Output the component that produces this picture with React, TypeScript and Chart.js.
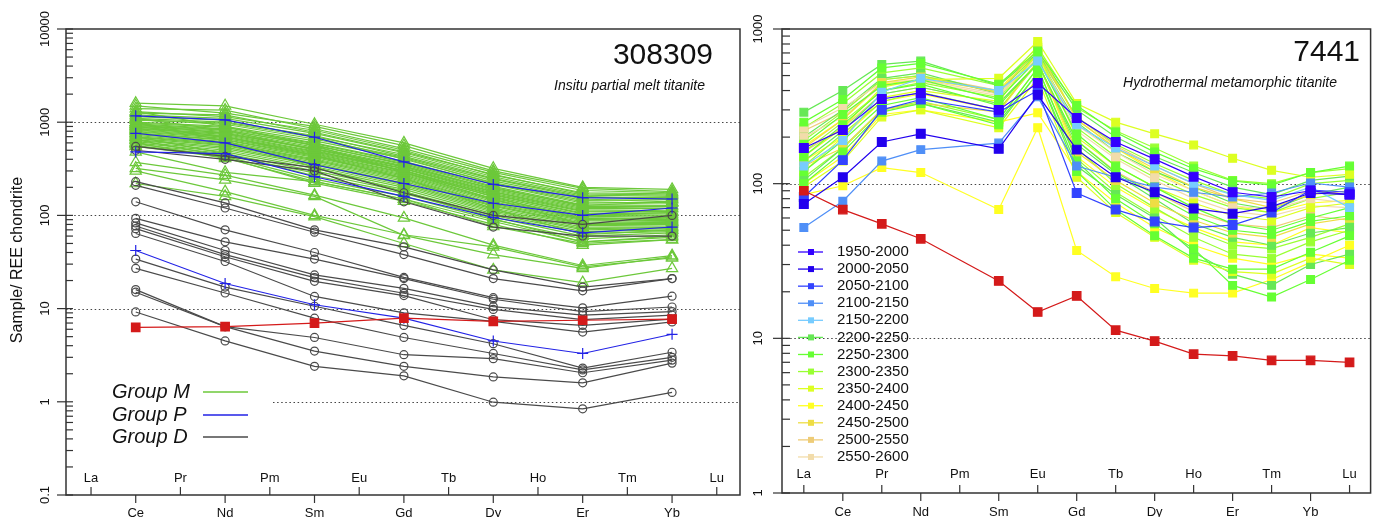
import React, { useEffect, useRef } from 'react';
import { Chart, registerables } from 'chart.js';

Chart.register(...registerables);

const W = 1378;
const H = 517;
const FONT = '"Liberation Sans", Arial, Helvetica, sans-serif';

// ---------- shared categories ----------
const elements = ['La', 'Ce', 'Pr', 'Nd', 'Pm', 'Sm', 'Eu', 'Gd', 'Tb', 'Dy', 'Ho', 'Er', 'Tm', 'Yb', 'Lu'];
const leftElementIdx = [1, 3, 5, 7, 9, 11, 13]; // Ce Nd Sm Gd Dy Er Yb
const rightElementIdx = [0, 1, 2, 3, 5, 6, 7, 8, 9, 10, 11, 12, 13, 14]; // no Pm

// ---------- left panel (308309) ----------
const leftYTicks = [0.1, 1, 10, 100, 1000, 10000];
const leftYTickLabels = ['0.1', '1', '10', '100', '1000', '10000'];
const leftGridFull = [10, 100, 1000];
const leftGridPartial = [1];
const leftLegendLabels = ['Group M', 'Group P', 'Group D'];

const groupM: number[][] = [
  [1600, 1500, 950, 600, 320, 200, 190],
  [1500, 1250, 900, 560, 300, 195, 180],
  [1400, 1350, 850, 520, 290, 185, 175],
  [1300, 1150, 820, 500, 270, 175, 170],
  [1250, 1200, 780, 480, 275, 170, 165],
  [1200, 1100, 760, 470, 260, 165, 160],
  [1150, 1050, 700, 450, 250, 160, 150],
  [1100, 1000, 720, 430, 245, 155, 155],
  [1080, 950, 660, 420, 235, 150, 140],
  [1050, 980, 690, 400, 225, 145, 148],
  [1000, 900, 630, 410, 220, 140, 135],
  [980, 880, 600, 380, 215, 135, 138],
  [960, 850, 590, 370, 205, 130, 128],
  [940, 830, 560, 360, 200, 125, 125],
  [920, 820, 570, 350, 190, 122, 120],
  [900, 800, 540, 340, 185, 118, 118],
  [880, 780, 520, 330, 180, 115, 112],
  [860, 760, 510, 320, 178, 112, 110],
  [850, 740, 490, 315, 172, 110, 108],
  [830, 720, 480, 305, 168, 106, 104],
  [820, 700, 470, 300, 165, 104, 100],
  [800, 690, 460, 290, 160, 100, 98],
  [790, 670, 450, 285, 152, 98, 95],
  [770, 650, 440, 278, 148, 95, 92],
  [760, 640, 430, 270, 145, 93, 90],
  [740, 620, 420, 262, 140, 90, 88],
  [720, 600, 405, 255, 135, 88, 86],
  [700, 590, 395, 248, 132, 85, 84],
  [690, 570, 385, 240, 128, 82, 82],
  [670, 560, 372, 232, 125, 80, 80],
  [650, 540, 360, 222, 120, 78, 77],
  [640, 520, 350, 215, 116, 75, 75],
  [620, 500, 335, 208, 112, 72, 74],
  [600, 480, 320, 200, 108, 70, 72],
  [580, 460, 300, 190, 104, 67, 70],
  [560, 440, 285, 180, 100, 64, 67],
  [700, 460, 265, 172, 96, 60, 65],
  [650, 430, 245, 160, 90, 56, 62],
  [600, 410, 232, 150, 86, 52, 58],
  [550, 420, 222, 142, 80, 48, 55],
  [1000, 630, 330, 180, 92, 52, 60],
  [900, 700, 440, 250, 118, 62, 70],
  [1300, 900, 560, 290, 150, 80, 85],
  [1100, 820, 500, 300, 158, 90, 95],
  [950, 760, 520, 335, 195, 128, 140],
  [480, 290, 230, 150, 76, 50, 55],
  [370, 270, 165, 94, 48, 29, 37],
  [320, 240, 160, 61, 38, 27, 36],
  [220, 160, 97, 50, 26, 19, 27],
  [300, 180, 100, 62, 46, 28, 35],
];

const groupP: number[][] = [
  [1170, 1060, 690, 375, 215, 155, 150],
  [760, 600, 350, 220, 135, 100, 120],
  [480, 460, 260, 160, 95, 65, 75],
  [42, 18.6, 11, 7.9, 4.5, 3.3, 5.3],
];

const groupD: number[][] = [
  [550, 430, 325, 175, 100, 80, 100],
  [500, 400, 300, 140, 75, 60, 60],
  [230, 136, 70, 46, 26, 17, 21],
  [210, 120, 66, 38, 21, 15.5, 21],
  [140, 70, 40, 21.6, 13.1, 10.2, 13.6],
  [93, 52, 34, 21, 12.6, 9.3, 10.4],
  [83, 42, 23, 16.5, 10.5, 8.5, 9.3],
  [77, 38, 21.5, 14.6, 9.8, 7.6, 8.5],
  [72, 36, 19.6, 13.8, 7.6, 6.6, 7.7],
  [64, 32, 13.5, 9.0, 7.3, 5.6, 7.2],
  [34, 17, 10.6, 6.6, 4.2, 2.3, 3.4],
  [27, 14.7, 7.9, 4.9, 3.3, 2.2, 3.0],
  [16, 6.4, 4.9, 3.2, 2.9, 2.05, 2.8],
  [15, 6.4, 3.5, 2.4, 1.85, 1.6, 2.6],
  [9.2, 4.5, 2.4, 1.9, 0.99, 0.84, 1.26],
];

const leftRed = [6.3, 6.4, 7.0, 7.9, 7.3, 7.5, 7.7];

// ---------- right panel (7441) ----------
const rightYTicks = [1, 10, 100, 1000];
const rightYTickLabels = ['1', '10', '100', '1000'];
const rightGrid = [10, 100];

const ageLabels = [
  '1950-2000', '2000-2050', '2050-2100', '2100-2150', '2150-2200', '2200-2250', '2250-2300',
  '2300-2350', '2350-2400', '2400-2450', '2450-2500', '2500-2550', '2550-2600',
];
const ageColors = [
  '#3300ff', '#2200ee', '#3344ff', '#4f8ff7', '#77ccff', '#66e855', '#66ff33',
  '#99ff33', '#ddff22', '#ffff22', '#eedd44', '#eecc77', '#f2dcaa',
];

const age1950: number[][] = [[170, 222, 353, 386, 300, 448, 266, 186, 144, 111, 88, 82, 90, 85]];
const age2000: number[][] = [[74, 110, 186, 210, 168, 375, 166, 110, 88, 69, 64, 71, 87, 85]];
const age2050: number[][] = [[82, 142, 300, 350, 290, 400, 87, 68, 57, 52, 54, 65, 91, 88]];
const age2100: number[][] = [[52, 77, 140, 166, 183, 364, 130, 110, 95, 88, 82, 87, 101, 95]];
const age2150: number[][] = [[130, 190, 390, 480, 400, 620, 240, 170, 130, 100, 85, 78, 95, 70]];
const age2200: number[][] = [
  [290, 400, 590, 620, 430, 700, 300, 200, 150, 118, 95, 85, 105, 112],
  [200, 300, 480, 520, 380, 650, 250, 160, 120, 95, 75, 68, 85, 95],
  [140, 220, 380, 420, 330, 600, 180, 115, 80, 55, 45, 40, 48, 52],
  [105, 170, 300, 330, 250, 520, 130, 85, 60, 36, 26, 22, 30, 35],
];
const age2250: number[][] = [
  [250, 350, 560, 600, 440, 720, 320, 215, 160, 125, 104, 98, 118, 130],
  [180, 280, 430, 470, 350, 640, 210, 130, 95, 70, 55, 50, 60, 70],
  [120, 190, 320, 360, 260, 560, 140, 80, 55, 38, 22, 18.5, 24, 32],
  [150, 240, 400, 440, 320, 600, 190, 118, 85, 62, 50, 47, 57, 62],
  [100, 160, 290, 330, 240, 520, 120, 68, 46, 33, 28, 28, 36, 46],
];
const age2300: number[][] = [
  [230, 330, 520, 560, 430, 760, 310, 220, 170, 130, 105, 100, 118, 125],
  [160, 250, 400, 450, 360, 690, 230, 150, 110, 85, 70, 65, 80, 88],
  [130, 210, 340, 390, 300, 600, 170, 100, 70, 50, 40, 38, 45, 55],
  [110, 170, 300, 340, 260, 560, 145, 88, 62, 45, 35, 33, 42, 50],
  [190, 290, 470, 500, 390, 700, 270, 180, 135, 105, 85, 80, 100, 105],
];
const age2350: number[][] = [
  [150, 230, 420, 470, 480, 830, 330, 250, 210, 178, 146, 122, 110, 115],
  [120, 200, 360, 400, 340, 700, 200, 130, 95, 75, 62, 58, 70, 75],
  [95, 140, 270, 300, 230, 480, 110, 65, 45, 32, 27, 26, 33, 30],
];
const age2400: number[][] = [
  [85, 97, 127, 118, 68, 230, 37, 25, 21, 19.6, 19.6, 24, 31, 40],
  [100, 150, 280, 300, 250, 287, 120, 75, 52, 40, 33, 30, 35, 33],
  [175, 260, 440, 470, 400, 780, 260, 170, 120, 90, 72, 65, 75, 78],
  [140, 200, 340, 380, 300, 620, 150, 95, 68, 52, 42, 40, 52, 48],
];
const age2450: number[][] = [
  [170, 260, 450, 490, 390, 740, 260, 170, 125, 95, 80, 70, 85, 90],
  [130, 170, 300, 330, 290, 620, 160, 105, 75, 58, 48, 45, 55, 60],
];
const age2500: number[][] = [
  [220, 290, 470, 500, 400, 680, 270, 175, 130, 100, 80, 75, 90, 85],
  [160, 230, 380, 420, 330, 600, 190, 120, 88, 66, 55, 52, 62, 58],
];
const age2550: number[][] = [
  [200, 270, 430, 460, 370, 660, 240, 160, 115, 90, 72, 68, 80, 75],
  [230, 310, 450, 470, 380, 650, 220, 145, 105, 80, 66, 62, 72, 70],
];
const rightRed = [90, 68, 55, 44, 23.5, 14.8, 18.8, 11.3, 9.6, 7.9, 7.7, 7.2, 7.2, 7.0];

// ---------- colours ----------
const GREEN = '#6cc83a';
const BLUE = '#2222e6';
const GRAY = '#4a4a4a';
const RED = '#d41a1a';
const AXIS = '#333333';
const TEXT = '#111111';

function pts(vals: number[], idx: number[]) {
  return vals.map((v, i) => ({ x: idx[i], y: v }));
}

function line(ctx: CanvasRenderingContext2D, x1: number, y1: number, x2: number, y2: number) {
  ctx.beginPath();
  ctx.moveTo(x1, y1);
  ctx.lineTo(x2, y2);
  ctx.stroke();
}

interface AxisCfg {
  yTicks: number[];
  yLabels: string[];
  yLabelX: number;
  majorOut: number;
  tickIn: number;
  xTick: number;
  xUp: number;
  xDown: number;
}

function drawGrid(chart: any, full: number[], partial: number[], partialStart: number) {
  const { ctx, chartArea: a, scales } = chart;
  ctx.save();
  ctx.strokeStyle = '#444';
  ctx.lineWidth = 1.1;
  ctx.setLineDash([1.5, 2.6]);
  full.forEach((v) => {
    const py = Math.round(scales.y.getPixelForValue(v)) + 0.5;
    line(ctx, a.left, py, a.right, py);
  });
  partial.forEach((v) => {
    const py = Math.round(scales.y.getPixelForValue(v)) + 0.5;
    line(ctx, partialStart, py, a.right, py);
  });
  ctx.restore();
}

function drawAxes(chart: any, cfg: AxisCfg) {
  const { ctx, chartArea: a, scales } = chart;
  const xs = scales.x;
  const ys = scales.y;
  ctx.save();
  ctx.setLineDash([]);
  ctx.strokeStyle = AXIS;
  ctx.lineWidth = 1.5;
  ctx.beginPath();
  ctx.moveTo(a.left, a.top);
  ctx.lineTo(a.left, a.bottom);
  ctx.lineTo(a.right, a.bottom);
  ctx.lineTo(a.right, a.top);
  ctx.closePath();
  ctx.stroke();

  ctx.lineWidth = 1.2;
  cfg.yTicks.forEach((v, k) => {
    const py = ys.getPixelForValue(v);
    line(ctx, a.left - cfg.majorOut, py, a.left + cfg.tickIn, py);
    if (k < cfg.yTicks.length - 1) {
      for (let m = 2; m <= 9; m++) {
        const p2 = ys.getPixelForValue(v * m);
        line(ctx, a.left, p2, a.left + cfg.tickIn, p2);
      }
    }
  });

  ctx.fillStyle = TEXT;
  ctx.font = `13px ${FONT}`;
  ctx.textAlign = 'center';
  ctx.textBaseline = 'middle';
  cfg.yTicks.forEach((v, k) => {
    const py = ys.getPixelForValue(v);
    ctx.save();
    ctx.translate(cfg.yLabelX, py);
    ctx.rotate(-Math.PI / 2);
    ctx.fillText(cfg.yLabels[k], 0, 0);
    ctx.restore();
  });

  elements.forEach((el, i) => {
    const px = xs.getPixelForValue(i);
    if (i % 2 === 0) {
      line(ctx, px, a.bottom, px, a.bottom - cfg.xTick);
      ctx.fillText(el, px, a.bottom - cfg.xUp);
    } else {
      line(ctx, px, a.bottom, px, a.bottom + cfg.xTick);
      ctx.fillText(el, px, a.bottom + cfg.xDown);
    }
  });
  ctx.restore();
}

const leftDecor = {
  id: 'leftDecor',
  beforeDatasetsDraw(chart: any) {
    drawGrid(chart, leftGridFull, leftGridPartial, 273);
  },
  afterDatasetsDraw(chart: any) {
    const ctx: CanvasRenderingContext2D = chart.ctx;
    drawAxes(chart, { yTicks: leftYTicks, yLabels: leftYTickLabels, yLabelX: 45, majorOut: 9, tickIn: 7, xTick: 8, xUp: 17, xDown: 18 });
    ctx.save();
    ctx.fillStyle = TEXT;
    ctx.font = `16px ${FONT}`;
    ctx.textAlign = 'center';
    ctx.textBaseline = 'middle';
    ctx.save();
    ctx.translate(18, 260);
    ctx.rotate(-Math.PI / 2);
    ctx.fillText('Sample/ REE chondrite', 0, 0);
    ctx.restore();
    ctx.textAlign = 'right';
    ctx.font = `30px ${FONT}`;
    ctx.fillText('308309', 713, 56);
    ctx.font = `italic 14px ${FONT}`;
    ctx.fillText('Insitu partial melt titanite', 705, 86);
    const lc = [GREEN, BLUE, GRAY];
    const ly = [392, 415, 437];
    ctx.textAlign = 'left';
    ctx.font = `italic 20px ${FONT}`;
    leftLegendLabels.forEach((lab, i) => {
      ctx.fillStyle = TEXT;
      ctx.fillText(lab, 112, ly[i]);
      ctx.strokeStyle = lc[i];
      ctx.lineWidth = 1.5;
      line(ctx, 203, ly[i], 248, ly[i]);
    });
    ctx.restore();
  },
};

const rightDecor = {
  id: 'rightDecor',
  beforeDatasetsDraw(chart: any) {
    drawGrid(chart, rightGrid, [], 0);
  },
  afterDatasetsDraw(chart: any) {
    const ctx: CanvasRenderingContext2D = chart.ctx;
    drawAxes(chart, { yTicks: rightYTicks, yLabels: rightYTickLabels, yLabelX: 758, majorOut: 9, tickIn: 8, xTick: 8, xUp: 19, xDown: 19 });
    ctx.save();
    ctx.fillStyle = TEXT;
    ctx.textBaseline = 'middle';
    ctx.textAlign = 'right';
    ctx.font = `30px ${FONT}`;
    ctx.fillText('7441', 1360, 53);
    ctx.font = `italic 14px ${FONT}`;
    ctx.fillText('Hydrothermal metamorphic titanite', 1337, 83);
    ctx.textAlign = 'left';
    ctx.font = `15px ${FONT}`;
    ageLabels.forEach((lab, i) => {
      const y = 252 + i * 17.08;
      ctx.strokeStyle = ageColors[i];
      ctx.lineWidth = 1.3;
      line(ctx, 798, y, 823, y);
      ctx.fillStyle = ageColors[i];
      ctx.fillRect(808, y - 3, 6, 6);
      ctx.fillStyle = TEXT;
      ctx.fillText(lab, 837, y);
    });
    ctx.restore();
  },
};

function lineDs(vals: number[], idx: number[], color: string, style: string, radius: number, filled: boolean, order: number, width = 1.2) {
  return {
    data: pts(vals, idx),
    borderColor: color,
    backgroundColor: color,
    borderWidth: width,
    pointStyle: style,
    pointRadius: radius,
    pointBorderColor: color,
    pointBackgroundColor: filled ? color : 'rgba(0,0,0,0)',
    pointBorderWidth: 1.2,
    fill: false,
    tension: 0,
    order,
  };
}

function buildLeft() {
  const ds: any[] = [];
  ds.push(lineDs(leftRed, leftElementIdx, RED, 'rect', 6, true, 0));
  groupP.forEach((s) => ds.push(lineDs(s, leftElementIdx, BLUE, 'cross', 5.5, false, 1, 1.1)));
  groupD.forEach((s) => ds.push(lineDs(s, leftElementIdx, GRAY, 'circle', 4, false, 2)));
  groupM.forEach((s) => ds.push(lineDs(s, leftElementIdx, GREEN, 'triangle', 6.5, false, 3)));
  return ds;
}

function buildRight() {
  const ds: any[] = [];
  ds.push(lineDs(rightRed, rightElementIdx, RED, 'rect', 6, true, 0));
  const groups = [age1950, age2000, age2050, age2100, age2150, age2200, age2250, age2300, age2350, age2400, age2450, age2500, age2550];
  groups.forEach((g, gi) => {
    const big = gi < 3;
    g.forEach((s) => ds.push(lineDs(s, rightElementIdx, ageColors[gi], 'rect', big ? 6.2 : 5.5, true, gi < 5 ? 1 + gi : 10 + ((gi * 7) % 13), 1.2)));
  });
  return ds;
}

function baseOptions(padding: any, xMin: number, xMax: number, yMin: number, yMax: number) {
  return {
    responsive: false,
    maintainAspectRatio: false,
    animation: false as const,
    devicePixelRatio: 1,
    events: [] as any[],
    layout: { padding },
    scales: {
      x: { type: 'linear' as const, min: xMin, max: xMax, display: false },
      y: { type: 'logarithmic' as const, min: yMin, max: yMax, display: false },
    },
    plugins: { legend: { display: false }, tooltip: { enabled: false }, title: { display: false } },
  };
}

export default function App() {
  const leftRef = useRef<HTMLCanvasElement | null>(null);
  const rightRef = useRef<HTMLCanvasElement | null>(null);

  useEffect(() => {
    if (!leftRef.current || !rightRef.current) return;
    const left = new Chart(leftRef.current, {
      type: 'line',
      data: { datasets: buildLeft() },
      options: baseOptions({ left: 66, right: W - 740, top: 29, bottom: H - 495 }, -0.56, 14.52, 0.1, 10000) as any,
      plugins: [leftDecor],
    });
    const right = new Chart(rightRef.current, {
      type: 'line',
      data: { datasets: buildRight() },
      options: baseOptions({ left: 782, right: W - 1372, top: 29, bottom: H - 493 }, -0.56, 14.54, 1, 1000) as any,
      plugins: [rightDecor],
    });
    return () => {
      left.destroy();
      right.destroy();
    };
  }, []);

  const cs: React.CSSProperties = { position: 'absolute', left: 0, top: 0, width: W, height: H };
  return (
    <div style={{ position: 'absolute', left: 0, top: 0, width: W, height: H, background: '#fff', overflow: 'hidden' }}>
      <canvas ref={leftRef} width={W} height={H} style={cs} />
      <canvas ref={rightRef} width={W} height={H} style={cs} />
    </div>
  );
}
